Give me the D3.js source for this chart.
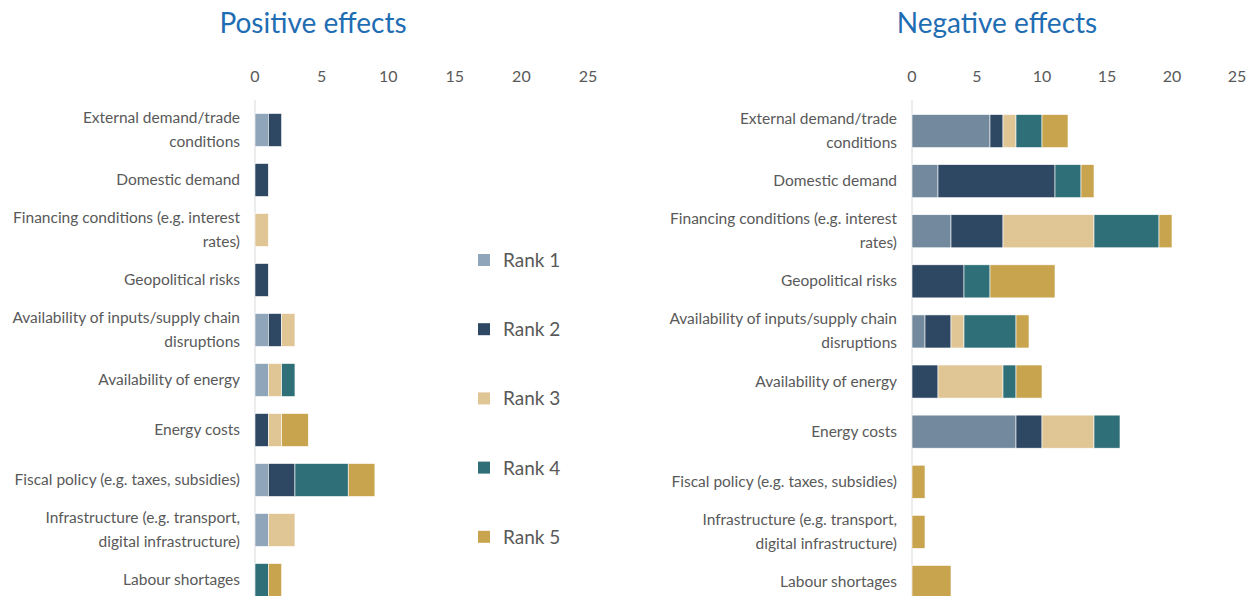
<!DOCTYPE html>
<html>
<head>
<meta charset="utf-8">
<script src="https://cdn.jsdelivr.net/npm/d3@7"></script>
<style>
  body { margin: 0; background: #fff; }
  text { font-family: Lato, "Open Sans", sans-serif; }
</style>
</head>
<body>
<svg id="chart" width="1254" height="596"></svg>
<script>
// categories (\n marks the line break used in the picture)
var categories = [
  "External demand/trade\nconditions",
  "Domestic demand",
  "Financing conditions (e.g. interest\nrates)",
  "Geopolitical risks",
  "Availability of inputs/supply chain\ndisruptions",
  "Availability of energy",
  "Energy costs",
  "Fiscal policy (e.g. taxes, subsidies)",
  "Infrastructure (e.g. transport,\ndigital infrastructure)",
  "Labour shortages"
];
var ranks = ["Rank 1", "Rank 2", "Rank 3", "Rank 4", "Rank 5"];
var ticks = [0, 5, 10, 15, 20, 25];

// positive effects, one array per rank
var posRank1 = [1, 0, 0, 0, 1, 1, 0, 1, 1, 0];
var posRank2 = [1, 1, 0, 1, 1, 0, 1, 2, 0, 0];
var posRank3 = [0, 0, 1, 0, 1, 1, 1, 0, 2, 0];
var posRank4 = [0, 0, 0, 0, 0, 1, 0, 4, 0, 1];
var posRank5 = [0, 0, 0, 0, 0, 0, 2, 2, 0, 1];

// negative effects
var negRank1 = [6, 2, 3, 0, 1, 0, 8, 0, 0, 0];
var negRank2 = [1, 9, 4, 4, 2, 2, 2, 0, 0, 0];
var negRank3 = [1, 0, 7, 0, 1, 5, 4, 0, 0, 0];
var negRank4 = [2, 2, 5, 2, 4, 1, 2, 0, 0, 0];
var negRank5 = [2, 1, 1, 5, 1, 2, 0, 1, 1, 3];

var colorsPos = ["#8fa5b9", "#2e4863", "#e0c595", "#2f7078", "#c9a44f"];
var colorsNeg = ["#738a9e", "#2e4863", "#e0c595", "#2f7078", "#c9a44f"];

var svg = d3.select("#chart");
var gray = "#595959";

function rows(series) {
  return categories.map(function(c, i) {
    var o = {cat: c};
    ranks.forEach(function(r, k) { o[r] = series[k][i]; });
    return o;
  });
}

function drawPanel(opt) {
  var x = d3.scaleLinear().domain([0, 25]).range(opt.xr);
  var y = d3.scaleBand().domain(categories).range(opt.yr).paddingInner(0.34).paddingOuter(0.17);
  var g = svg.append("g");

  g.append("text")
    .attr("x", opt.titleX).attr("y", 33)
    .attr("text-anchor", "middle")
    .attr("font-size", 28)
    .attr("fill", "#1f6db3")
    .text(opt.title);

  g.selectAll(".tick-label").data(ticks).enter().append("text")
    .attr("class", "tick-label")
    .attr("x", function(d) { return x(d); })
    .attr("y", 82)
    .attr("text-anchor", "middle")
    .attr("font-size", 16)
    .attr("fill", gray)
    .text(function(d) { return d; });

  g.append("line")
    .attr("x1", x(0)).attr("x2", x(0))
    .attr("y1", 100).attr("y2", 596)
    .attr("stroke", "#d9d9d9").attr("stroke-width", 1);

  var stacked = d3.stack().keys(ranks)(rows(opt.series));
  g.selectAll(".layer").data(stacked).enter().append("g")
    .attr("fill", function(d, i) { return opt.colors[i]; })
    .selectAll("rect").data(function(d) { return d; }).enter().append("rect")
    .filter(function(d) { return d[1] > d[0]; })
    .attr("x", function(d) { return x(d[0]); })
    .attr("y", function(d) { return y(d.data.cat); })
    .attr("width", function(d) { return x(d[1]) - x(d[0]); })
    .attr("height", y.bandwidth())
    .attr("stroke", "#fff").attr("stroke-width", 0.6);

  var labels = g.selectAll(".cat").data(categories).enter().append("text")
    .attr("class", "cat")
    .attr("text-anchor", "end")
    .attr("font-size", 15.5)
    .attr("fill", gray);
  labels.each(function(c) {
    var parts = c.split("\n");
    var cy = y(c) + y.bandwidth() / 2;
    var t = d3.select(this);
    parts.forEach(function(p, i) {
      t.append("tspan")
        .attr("x", opt.labelX)
        .attr("y", cy + 5 + (i - (parts.length - 1) / 2) * 24)
        .text(p);
    });
  });
}

drawPanel({
  title: "Positive effects", titleX: 313,
  xr: [255, 588], yr: [105, 605], labelX: 240,
  series: [posRank1, posRank2, posRank3, posRank4, posRank5],
  colors: colorsPos
});

drawPanel({
  title: "Negative effects", titleX: 997,
  xr: [912, 1237], yr: [106, 607], labelX: 897,
  series: [negRank1, negRank2, negRank3, negRank4, negRank5],
  colors: colorsNeg
});

// legend
var leg = svg.append("g").selectAll("g").data(ranks).enter().append("g")
  .attr("transform", function(d, i) { return "translate(478," + (260 + i * 69.2) + ")"; });
leg.append("rect")
  .attr("x", 0).attr("y", -6).attr("width", 12).attr("height", 12)
  .attr("fill", function(d, i) { return colorsPos[i]; });
leg.append("text")
  .attr("x", 25).attr("y", 7)
  .attr("font-size", 19)
  .attr("fill", gray)
  .text(function(d) { return d; });
</script>
</body>
</html>
